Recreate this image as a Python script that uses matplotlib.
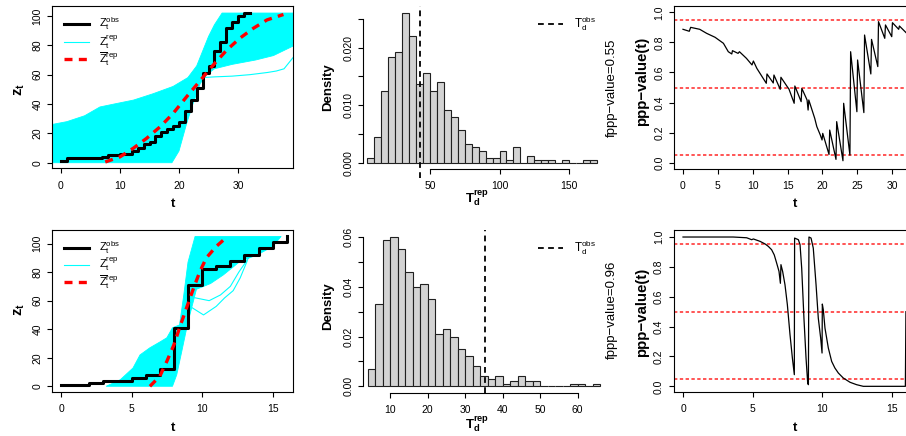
import numpy as np
import matplotlib
matplotlib.use('Agg')
import matplotlib.pyplot as plt
from matplotlib.lines import Line2D

plt.rcParams['font.family'] = ['Liberation Sans', 'DejaVu Sans']
plt.rcParams['mathtext.fontset'] = 'custom'
plt.rcParams['mathtext.rm'] = 'Liberation Sans'
plt.rcParams['mathtext.it'] = 'Liberation Sans:italic'
plt.rcParams['mathtext.bf'] = 'Liberation Sans:bold'
plt.rcParams['mathtext.default'] = 'regular'

# ---------------- data: top row ----------------
obs1_t = [0, 1, 2, 3, 4, 5, 6, 7, 8, 9, 10, 11, 12, 13, 14, 15, 16, 17, 18, 19, 20,
          21, 22, 23, 24, 25, 26, 27, 28, 29, 30, 31, 32]
obs1_z = [1, 3, 3, 3, 3, 3, 3, 4, 5, 5, 6, 6, 8, 10, 13, 14, 18, 21, 23, 25, 28,
          35, 43, 51, 61, 66, 76, 82, 92, 96, 100, 102, 102]
mean1_t = [7.5, 10, 12.3, 14.5, 16.8, 19, 21.3, 23.6, 25.8, 28.1, 30.3, 32.6, 34.9, 37.7]
mean1_z = [0.5, 4, 10, 16.6, 24.5, 33.6, 45, 56, 66.6, 76.8, 84.8, 91.6, 97.3, 101]
rep1_upper_t = [-1.6, 1, 4, 6.6, 9, 12.3, 15.6, 19, 21.5, 23, 24, 25, 26, 27.3, 39.6]
rep1_upper_z = [26, 28, 32, 38, 40, 42.7, 47, 52, 58, 66, 76, 86, 94, 102, 102]
rep1_lower_t = [-1.6, 18.8, 20, 21.3, 22.4, 23.6, 24.7, 26, 29, 33, 36, 39.6]
rep1_lower_z = [0, 0, 8, 26.8, 40.5, 54, 60, 64, 67, 70, 73, 80]
rep1_out_t = [24, 26, 29, 32, 35, 36.5, 37.8, 39.6]
rep1_out_z = [58, 58.5, 59, 60, 61.5, 62.5, 64, 73]

hist1_left = list(range(5, 170, 5))
hist1_dens = [0.0008, 0.0044, 0.0124, 0.0184, 0.0192, 0.0260, 0.0220, 0.0136, 0.0156,
              0.0124, 0.0140, 0.0092, 0.0080, 0.0056, 0.0032, 0.0028, 0.0020, 0.0008,
              0.0008, 0.0020, 0.0004, 0.0028, 0.0, 0.0012, 0.0004, 0.0004, 0.0004, 0.0,
              0.0004, 0.0, 0.0, 0.0004, 0.0004]
hist1_width = 5
T1_obs = 43
fppp1 = "0.55"

ppp1_t = [0, 0.9, 1.1, 2.4, 3.4, 4.6, 5.8, 6.5, 7.0, 7.1, 7.9, 8.1, 9.1, 9.9, 10.1, 10.6,
          11.95, 12.05, 12.95, 13.05, 13.95, 14.05, 14.95, 15.2, 15.95, 16.05, 16.95, 17.05,
          17.8, 17.95, 18.05, 18.9, 19.2, 19.7, 19.95, 20.05, 20.95, 21.05, 21.95, 22.05,
          22.95, 23.05, 23.95, 24.05, 24.95, 25.05, 25.95, 26.05, 26.95, 27.05, 27.95,
          28.05, 28.95, 29.05, 29.95, 30.05, 30.95, 31.05, 32.0]
ppp1_v = [0.887, 0.874, 0.90, 0.887, 0.86, 0.834, 0.794, 0.738, 0.723, 0.745, 0.727, 0.738,
          0.694, 0.65, 0.676, 0.627, 0.528, 0.59, 0.53, 0.583, 0.488, 0.568, 0.506, 0.49,
          0.395, 0.51, 0.406, 0.494, 0.417, 0.35, 0.417, 0.295, 0.24, 0.184, 0.151, 0.195,
          0.055, 0.217, 0.022, 0.273, 0.013, 0.395, 0.05, 0.738, 0.339, 0.683, 0.333,
          0.849, 0.59, 0.82, 0.639, 0.938, 0.827, 0.916, 0.838, 0.931, 0.887, 0.909, 0.865]

# ---------------- data: bottom row ----------------
obs2_t = [0, 1, 2, 3, 4, 5, 6, 7, 8, 9, 10, 11, 12, 13, 14, 15, 16]
obs2_z = [1, 1, 2, 4, 4, 6, 8, 12, 41, 71, 82, 84, 88, 92, 97, 101, 105]
mean2_t = [6.3, 7.0, 7.5, 8.0, 8.4, 8.9, 9.4, 9.85, 10.3, 11.0, 11.8]
mean2_z = [0, 7, 17.5, 29, 41, 55, 69, 80.6, 90, 98, 105]
rep2_upper_t = [3.2, 4.2, 5.1, 5.6, 6.3, 7.0, 7.5, 7.9, 8.4, 8.7, 9.0, 9.5, 15.6]
rep2_upper_z = [0, 4.6, 12.8, 22, 27, 31, 34, 41, 43, 64, 87, 105, 105]
rep2_lower_t = [3.2, 7.9, 8.2, 8.56, 9.0, 9.6, 10.6, 11.5, 12.7, 13.9, 15.0, 15.6]
rep2_lower_z = [0, 0, 8, 24.5, 45, 68, 72, 78, 87.6, 92, 98, 105]
rep2_outA_t = [9.3, 10.1, 11.0, 11.6, 12.2, 12.7, 13.2]
rep2_outA_z = [55, 50, 56, 62, 67, 76, 88]
rep2_outB_t = [9.5, 10.5, 11.3, 12.0, 12.6, 13.3]
rep2_outB_z = [62, 60, 64, 70, 80, 90]

hist2_left = list(range(4, 66, 2))
hist2_dens = [0.007, 0.033, 0.059, 0.060, 0.055, 0.046, 0.040, 0.041, 0.035, 0.021, 0.023,
              0.020, 0.015, 0.012, 0.008, 0.004, 0.003, 0.004, 0.001, 0.002, 0.004, 0.002,
              0.002, 0.0, 0.0, 0.0, 0.0, 0.001, 0.001, 0.0, 0.001]
hist2_width = 2
T2_obs = 35.2
fppp2 = "0.96"

ppp2_t = [0, 3.6, 4.57, 4.93, 5.05, 5.53, 5.9, 6.12, 6.36, 6.55, 6.72, 6.89, 6.99, 7.03,
          7.15, 7.32, 7.49, 7.68, 7.85, 7.99, 8.01, 8.28, 8.4, 8.52, 8.68, 8.83, 8.95, 9.0,
          9.04, 9.19, 9.35, 9.55, 9.71, 9.88, 9.98, 10.0, 10.07, 10.19, 10.43, 10.67, 10.9,
          11.15, 11.5, 11.99, 12.46, 12.94, 15.96, 16.0]
ppp2_v = [1.0, 1.0, 0.995, 0.982, 0.987, 0.971, 0.953, 0.9375, 0.915, 0.88, 0.826, 0.77,
          0.69, 0.815, 0.77, 0.68, 0.547, 0.346, 0.19, 0.078, 0.993, 0.982, 0.949, 0.79,
          0.457, 0.19, 0.022, 0.011, 1.0, 0.993, 0.926, 0.68, 0.457, 0.324, 0.223, 0.551,
          0.513, 0.39, 0.257, 0.167, 0.123, 0.089, 0.056, 0.027, 0.011, 0.0, 0.0, 0.5]

ref_levels = [0.05, 0.5, 0.95]

# ---------------- layout helpers ----------------
W, H = 906, 436
fig = plt.figure(figsize=(W / 100, H / 100), dpi=100)


def rect(x0, y0, x1, y1):
    return [x0 / W, 1 - y1 / H, (x1 - x0) / W, (y1 - y0) / H]


def fx(px):
    return px / W


def fy(py):
    return 1 - py / H


TICK = 7.5
LAB = 9.5
CYAN = '#00FFFF'
RED_DASH = (2.4, 1.9)


def style_box(ax):
    for s in ax.spines.values():
        s.set_linewidth(0.8)
        s.set_color('black')
    ax.tick_params(direction='out', length=3.4, width=0.8, labelsize=TICK, colors='black')
    ax.tick_params(axis='x', pad=5.5)
    ax.tick_params(axis='y', pad=3.5, labelrotation=90)
    for lab in ax.get_yticklabels():
        lab.set_va('center')


def cum_panel(ax, obs_t, obs_z, mean_t, mean_z, up_t, up_z, lo_t, lo_z, outs, xlim, ylim, xticks):
    poly_t = list(up_t) + list(lo_t)[::-1]
    poly_z = list(up_z) + list(lo_z)[::-1]
    ax.fill(poly_t, poly_z, color=CYAN, lw=0.6, ec=CYAN, zorder=1)
    for ot, oz in outs:
        ax.plot(ot, oz, color=CYAN, lw=0.8, zorder=1)
    ax.step(obs_t, obs_z, where='post', color='black', lw=2.2, zorder=3)
    ax.plot(mean_t, mean_z, color='red', lw=2.4, dashes=RED_DASH, zorder=4)
    ax.set_xlim(*xlim)
    ax.set_ylim(*ylim)
    ax.set_xticks(xticks)
    ax.set_yticks([0, 20, 40, 60, 80, 100])
    style_box(ax)


def hist_panel(ax, left, dens, width, tobs, xlim, ylim, xticks, xbounds, yticks, ylabels, ybounds, vline_lo):
    ax.bar(left, dens, width=width, align='edge', color='#D3D3D3', edgecolor='#202020', lw=0.8)
    ax.axvline(tobs, ymin=vline_lo, ymax=1.0, color='black', lw=1.3, dashes=(3.2, 2.4), clip_on=False)
    ax.set_xlim(*xlim)
    ax.set_ylim(*ylim)
    ax.spines['top'].set_visible(False)
    ax.spines['right'].set_visible(False)
    ax.spines['left'].set_bounds(*ybounds)
    ax.spines['bottom'].set_bounds(*xbounds)
    for s in ('left', 'bottom'):
        ax.spines[s].set_linewidth(0.8)
    ax.set_xticks(xticks)
    ax.set_yticks(yticks)
    ax.set_yticklabels(ylabels)
    ax.tick_params(direction='out', length=3.4, width=0.8, labelsize=TICK)
    ax.tick_params(axis='x', pad=5.5)
    ax.tick_params(axis='y', pad=3.5, labelrotation=90)
    for lab in ax.get_yticklabels():
        lab.set_va('center')


def ppp_panel(ax, t, v, xlim, ylim, xticks):
    for lv in ref_levels:
        ax.axhline(lv, color='red', lw=1.1, dashes=(2.2, 1.6), alpha=0.85, zorder=1)
    ax.plot(t, v, color='black', lw=0.9, zorder=2)
    ax.set_xlim(*xlim)
    ax.set_ylim(*ylim)
    ax.set_xticks(xticks)
    ax.set_yticks([0, 0.2, 0.4, 0.6, 0.8, 1.0])
    ax.set_yticklabels(['0.0', '0.2', '0.4', '0.6', '0.8', '1.0'])
    style_box(ax)


# ---------------- top row ----------------
ax1 = fig.add_axes(rect(52, 5.7, 293, 168.3))
cum_panel(ax1, obs1_t, obs1_z, mean1_t, mean1_z, rep1_upper_t, rep1_upper_z,
          rep1_lower_t, rep1_lower_z, [(rep1_out_t, rep1_out_z)],
          (-1.525, 39.32), (-3.8, 107.0), [0, 10, 20, 30])

ax2 = fig.add_axes(rect(363, 5.7, 606, 169))
hist_panel(ax2, hist1_left, hist1_dens, hist1_width, T1_obs, (1.8, 176.6), (-0.0011, 0.0273),
           [50, 100, 150], (50, 150),
           [0, 0.005, 0.010, 0.015, 0.020, 0.025], ['0.000', '', '0.010', '', '0.020', ''],
           (0, 0.025), -0.055)

ax3 = fig.add_axes(rect(674, 5.7, 916, 168.7))
ppp_panel(ax3, ppp1_t, ppp1_v, (-1.29, 33.43), (-0.04, 1.044), [0, 5, 10, 15, 20, 25, 30])

# ---------------- bottom row ----------------
ax4 = fig.add_axes(rect(52, 230.3, 293, 392))
cum_panel(ax4, obs2_t, obs2_z, mean2_t, mean2_z, rep2_upper_t, rep2_upper_z,
          rep2_lower_t, rep2_lower_z, [(rep2_outA_t, rep2_outA_z), (rep2_outB_t, rep2_outB_z)],
          (-0.638, 16.44), (-4.0, 109.3), [0, 5, 10, 15])

ax5 = fig.add_axes(rect(363.3, 230.3, 606, 393))
hist_panel(ax5, hist2_left, hist2_dens, hist2_width, T2_obs, (2.87, 67.6), (-0.0027, 0.0627),
           [10, 20, 30, 40, 50, 60], (10, 60),
           [0, 0.01, 0.02, 0.03, 0.04, 0.05, 0.06], ['0.00', '', '0.02', '', '0.04', '', '0.06'],
           (0, 0.06), 0.0)

ax6 = fig.add_axes(rect(673.7, 230.3, 914, 392))
ppp_panel(ax6, ppp2_t, ppp2_v, (-0.668, 16.58), (-0.038, 1.045), [0, 5, 10, 15])

# ---------------- axis labels ----------------
for (yt, yl) in ((204, 90), (428, 310)):
    fig.text(fx(173), fy(yt), 't', fontsize=LAB, fontweight='bold', ha='center', va='center')
    fig.text(fx(20), fy(yl), r'$\mathbf{z}_{\mathbf{t}}$', fontsize=LAB + 1, rotation=90,
             ha='center', va='center')
for (yt, yd) in ((198, 87), (424, 306)):
    fig.text(fx(477), fy(yt), r'$\mathbf{T}_{\mathbf{d}}^{\mathbf{rep}}$', fontsize=LAB,
             ha='center', va='center')
    fig.text(fx(328), fy(yd), 'Density', fontsize=LAB, fontweight='bold', rotation=90,
             ha='center', va='center')
for (yt, yp, yf, fv) in ((204, 81, 88, fppp1), (428, 312, 310, fppp2)):
    fig.text(fx(795), fy(yt), 't', fontsize=LAB, fontweight='bold', ha='center', va='center')
    fig.text(fx(642), fy(yp), 'ppp\u2212value(t)', fontsize=10.8, fontweight='bold', rotation=90,
             ha='center', va='center')
    fig.text(fx(612), fy(yf), 'fppp\u2212value=' + fv, fontsize=LAB, rotation=90,
             ha='center', va='center')

# ---------------- legends ----------------
leg_texts = [r'$\mathrm{Z}_\mathrm{t}^\mathrm{obs}$', r'$\mathrm{Z}_\mathrm{t}^\mathrm{rep}$',
             r'$\overline{\mathrm{Z}}_\mathrm{t}^\mathrm{rep}$']
for ys in ((24, 42, 59), (248, 264.7, 282.3)):
    fig.add_artist(Line2D([fx(64), fx(89)], [fy(ys[0])] * 2, color='black', lw=2.2))
    fig.add_artist(Line2D([fx(64), fx(89)], [fy(ys[1])] * 2, color=CYAN, lw=0.8))
    fig.add_artist(Line2D([fx(64), fx(89)], [fy(ys[2])] * 2, color='red', lw=2.4, dashes=RED_DASH))
    for y, s in zip(ys, leg_texts):
        fig.text(fx(99), fy(y), s, fontsize=8, ha='left', va='center')

for y in (24, 248):
    fig.add_artist(Line2D([fx(538), fx(563)], [fy(y)] * 2, color='black', lw=1.3, dashes=(3.2, 2.4)))
    fig.text(fx(574), fy(y), r'$\mathrm{T}_\mathrm{d}^\mathrm{obs}$', fontsize=8.4, ha='left', va='center')

fig.savefig('out.png', dpi=100)
